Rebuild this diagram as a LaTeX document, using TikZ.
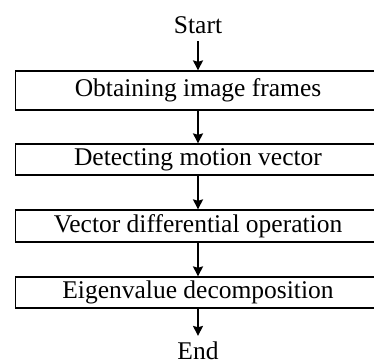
\documentclass[tikz,border=0pt]{standalone}
\usepackage{fontspec}
\setmainfont{Liberation Serif}
\usepackage{tikz}
\usetikzlibrary{arrows.meta}

\begin{document}
\begin{tikzpicture}[x = 0.5pt, y = -0.5pt,
  every node/.style = {font = \fontsize{12.75}{15}\selectfont},
  stepbox/.style = {draw, line width = 0.6pt, minimum width = 182.5pt, inner sep = 0pt},
  flow/.style = {-{Stealth[length = 5pt, width = 5pt, inset = 0.7pt]}, line width = 0.8pt}]
\clip (0, 0) rectangle (374, 363);

\node[anchor = base] at (198, 34) (start) {Start};

\node[stepbox, minimum height = 19.5pt] at (198, 90.5) (obtain) {Obtaining image frames};
\node[stepbox, minimum height = 15.5pt] at (198, 159.5) (detect) {Detecting motion vector};
\node[stepbox, minimum height = 16pt] at (198, 226) (diff)   {Vector differential operation};
\node[stepbox, minimum height = 15.5pt] at (198, 292.5) (eigen) {Eigenvalue decomposition};

\node[anchor = base, inner sep = 2.5pt] at (198, 359) (end) {End};

\draw[flow] (start) -- (obtain);
\draw[flow] (obtain) -- (detect);
\draw[flow] (detect) -- (diff);
\draw[flow] (diff) -- (eigen);
\draw[flow] (eigen) -- (end);

\end{tikzpicture}
\end{document}
